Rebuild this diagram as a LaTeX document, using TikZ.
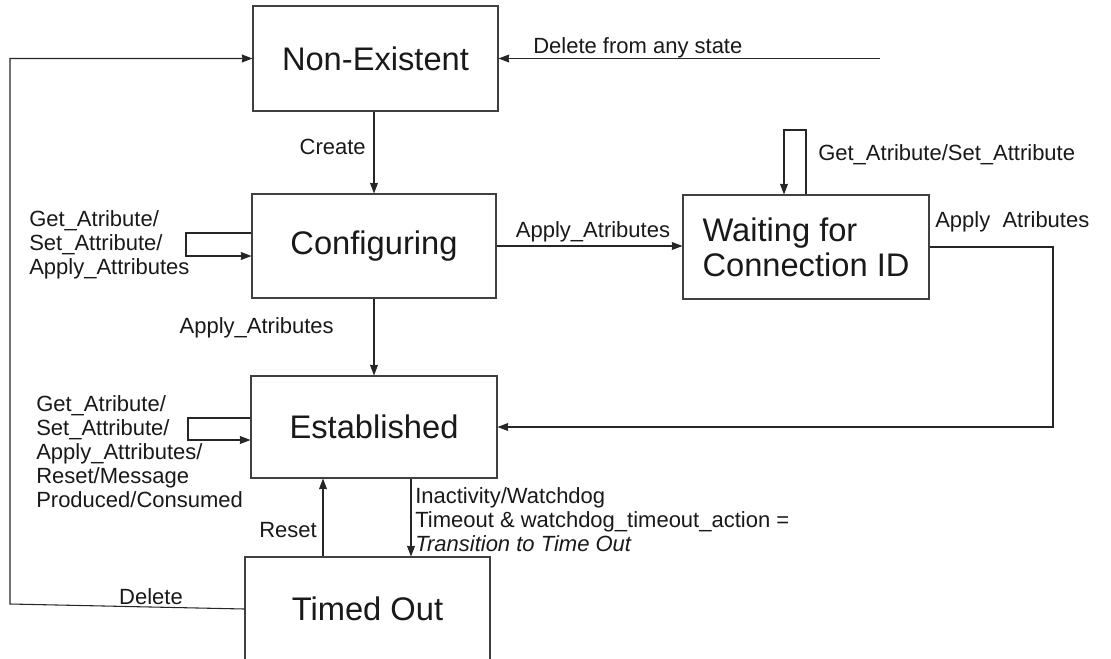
\documentclass[tikz,border=0pt]{standalone}
\usepackage{fontspec}
\setmainfont{Liberation Sans}
\usetikzlibrary{arrows.meta}

\tikzset{
  statebox/.style={draw=black!75, line width=0.8pt, inner sep=0pt, text=black!90,
    font=\fontsize{24.5}{26.5}\selectfont},
  lbl/.style={inner sep=0pt, text=black!90, align=left,
    font=\fontsize{16.5}{18}\selectfont},
  conn/.style={draw=black!85, line width=0.8pt},
}

\begin{document}
\begin{tikzpicture}[x=0.75pt, y=-0.75pt, >={Stealth[length=8pt,width=6pt,inset=0.5pt]}]
  \useasboundingbox (0,0) rectangle (1111,658);

  % states
  \node[statebox, minimum width=183.75pt, minimum height=78.75pt] (nonex) at (375.5,58.5) {Non-Existent};
  \node[statebox, minimum width=183pt, minimum height=78pt] (config) at (374,246) {Configuring};
  \node[statebox, minimum width=184.5pt, minimum height=78pt, align=left] (waiting) at (806,247) {Waiting for\\Connection ID};
  \node[statebox, minimum width=184.5pt, minimum height=76.5pt] (est) at (374,427) {Established};
  \node[statebox, minimum width=183.75pt, minimum height=78pt] (timed) at (367.5,609) {Timed Out};

  % create
  \draw[conn,->] (config.north |- nonex.south) -- (config.north);
  \node[lbl, anchor=east] (create) at (366,147) {Create};

  % delete from any state
  \coordinate (anystate) at (880,58.5);
  \draw[conn,->] (anystate) -- (nonex.east);
  \node[lbl, anchor=west] (anydel) at (533,48) {Delete from any state};

  % delete from timed out
  \coordinate (delb) at (10,604);
  \coordinate (delt) at (10,58.5);
  \draw[conn,->] (timed.west) -- (delb) -- (delt) -- (nonex.west);
  \node[lbl] (del) at (151,597) {Delete};

  % configuring self loop
  \coordinate (cfgtop) at (186,233);
  \coordinate (cfgbot) at (186,256);
  \draw[conn,->] (config.west |- cfgtop) -- (cfgtop) -- (cfgbot) -- (config.west |- cfgbot);
  \node[lbl, anchor=west] (cfgself) at (29,245) {Get\_Atribute/\\Set\_Attribute/\\Apply\_Attributes};

  % configuring -> waiting
  \draw[conn,->] (config.east) -- (config.east -| waiting.west);
  \node[lbl, anchor=south] (cfgwait) at (593,242) {Apply\_Atributes};

  % configuring -> established
  \draw[conn,->] (config.south) -- (est.north);
  \node[lbl, anchor=east] (cfgest) at (334,328) {Apply\_Atributes};

  % waiting self loop
  \coordinate (wtr) at (806,130);
  \coordinate (wtl) at (784,130);
  \draw[conn,->] (waiting.north -| wtr) -- (wtr) -- (wtl) -- (waiting.north -| wtl);
  \node[lbl, anchor=west] (waitself) at (818,155) {Get\_Atribute/Set\_Attribute};

  % waiting -> established
  \coordinate (wcorner) at (1053,427);
  \draw[conn,->] (waiting.east) -| (wcorner) -- (est.east);
  \node[lbl, anchor=west] (waitest) at (935,222) {Apply~~Atributes};

  % established self loop
  \coordinate (estop) at (188,418);
  \coordinate (esbot) at (188,440);
  \draw[conn,->] (est.west |- estop) -- (estop) -- (esbot) -- (est.west |- esbot);
  \node[lbl, anchor=west] (estself) at (36,452) {Get\_Atribute/\\Set\_Attribute/\\Apply\_Attributes/\\Reset/Message\\Produced/Consumed};

  % established -> timed out
  \coordinate (wdog) at (411,500);
  \draw[conn,->] (est.south -| wdog) -- (timed.north -| wdog);
  \node[lbl, anchor=west] (wdoglbl) at (415,520) {Inactivity/Watchdog\\Timeout \& watchdog\_timeout\_action =\\\textit{Transition to Time Out}};

  % reset
  \coordinate (rst) at (323,520);
  \draw[conn,->] (timed.north -| rst) -- (est.south -| rst);
  \node[lbl, anchor=east] (reset) at (317,530) {Reset};
\end{tikzpicture}
\end{document}
